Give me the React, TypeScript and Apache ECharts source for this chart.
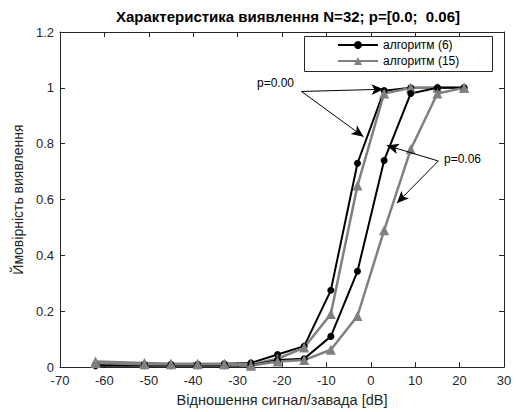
import React, { useEffect, useRef } from "react";
import * as echarts from "echarts";

// ---- data ----
const snr = [-62, -51, -45, -39, -33, -27, -21, -15, -9, -3, 3, 9, 15, 21];
const alg6p000 = [0.01, 0.01, 0.01, 0.01, 0.012, 0.015, 0.045, 0.075, 0.275, 0.73, 0.99, 1.0, 1.0, 1.0];
const alg15p000 = [0.02, 0.015, 0.012, 0.012, 0.012, 0.01, 0.03, 0.07, 0.19, 0.65, 0.98, 1.0, 1.0, 1.0];
const alg6p006 = [0.005, 0.005, 0.005, 0.005, 0.005, 0.006, 0.025, 0.03, 0.11, 0.343, 0.74, 0.98, 1.0, 1.0];
const alg15p006 = [0.015, 0.01, 0.01, 0.01, 0.01, 0.005, 0.02, 0.025, 0.062, 0.183, 0.49, 0.78, 0.98, 1.0];

const xMin = -70;
const xMax = 30;
const xStep = 10;
const yMin = 0;
const yMax = 1.2;
const yStep = 0.2;

const legendNames = ["алгоритм (6)", "алгоритм (15)"];
const titleText = "Характеристика виявлення N=32; p=[0.0;  0.06]";
const xName = "Відношення сигнал/завада [dB]";
const yName = "Ймовірність виявлення";

const labelP000 = "p=0.00";
const labelP006 = "p=0.06";
// annotation arrows in data coordinates: [from, to]
const arrowsP000 = [
  [[-15.6, 0.987], [2.85, 0.995]],
  [[-15.6, 0.987], [-1.65, 0.825]],
];
const arrowsP006 = [
  [[15.2, 0.738], [3.6, 0.794]],
  [[15.2, 0.738], [5.86, 0.587]],
];

const FONT = "'Liberation Sans', Arial, Helvetica, sans-serif";
const AX = "#262626";
const GRAY = "#808080";

const zip = (xs: number[], ys: number[]) => xs.map((x, i) => [x, ys[i]]);

export default function App() {
  const ref = useRef<HTMLDivElement>(null);
  useEffect(() => {
    document.body.style.margin = "0";
    const chart = echarts.init(ref.current!, undefined, { renderer: "svg" });
    const arrowData = [...arrowsP000, ...arrowsP006].map(([a, b]) => [
      { coord: a },
      { coord: b },
    ]);
    const axisCommon = {
      axisLine: { show: true, onZero: false, lineStyle: { color: AX, width: 1 } },
      axisTick: { show: true, inside: true, length: 5, lineStyle: { color: AX } },
      splitLine: { show: false },
    };
    chart.setOption({
      animation: false,
      backgroundColor: "#fff",
      textStyle: { fontFamily: FONT },
      title: {
        text: titleText,
        left: 111,
        top: 4,
        textStyle: { fontFamily: FONT, fontSize: 15, fontWeight: "bold", color: "#000" },
      },
      grid: { left: 60, right: 12, top: 32, bottom: 43 },
      legend: {
        data: legendNames,
        orient: "vertical",
        left: 305,
        top: 37,
        itemWidth: 40,
        itemHeight: 10,
        itemGap: 4,
        padding: [2, 0, 2, 32],
        textStyle: { fontFamily: FONT, fontSize: 12, color: "#000" },
        z: 6,
      },
      xAxis: [
        {
          type: "value",
          min: xMin,
          max: xMax,
          interval: xStep,
          position: "bottom",
          name: xName,
          nameLocation: "middle",
          nameGap: 21,
          nameTextStyle: { fontFamily: FONT, fontSize: 14.5, color: AX },
          axisLabel: { fontFamily: FONT, fontSize: 13, color: AX, margin: 7 },
          ...axisCommon,
        },
        {
          type: "value",
          min: xMin,
          max: xMax,
          interval: xStep,
          position: "top",
          axisLabel: { show: false },
          ...axisCommon,
        },
      ],
      yAxis: [
        {
          type: "value",
          min: yMin,
          max: yMax,
          interval: yStep,
          position: "left",
          name: yName,
          nameLocation: "middle",
          nameGap: 21,
          nameTextStyle: { fontFamily: FONT, fontSize: 14, color: AX },
          axisLabel: {
            fontFamily: FONT,
            fontSize: 13,
            color: AX,
            margin: 6,
            formatter: (v: number) => String(Math.round(v * 10) / 10),
          },
          ...axisCommon,
        },
        {
          type: "value",
          min: yMin,
          max: yMax,
          interval: yStep,
          position: "right",
          axisLabel: { show: false },
          ...axisCommon,
        },
      ],
      series: [
        {
          name: legendNames[0],
          type: "line",
          data: zip(snr, alg6p000),
          symbol: "circle",
          symbolSize: 7,
          itemStyle: { color: "#000" },
          lineStyle: { color: "#000", width: 2 },
          z: 3,
          markLine: {
            silent: true,
            symbol: ["none", "arrow"],
            symbolSize: [8, 12],
            label: { show: false },
            lineStyle: { color: "#000", width: 1, type: "solid" },
            data: arrowData,
            z: 10,
          },
        },
        {
          name: legendNames[1],
          type: "line",
          data: zip(snr, alg15p000),
          symbol: "triangle",
          symbolSize: 10,
          itemStyle: { color: GRAY },
          lineStyle: { color: GRAY, width: 2.5 },
          z: 3,
        },
        {
          name: legendNames[0],
          type: "line",
          data: zip(snr, alg6p006),
          symbol: "circle",
          symbolSize: 7,
          itemStyle: { color: "#000" },
          lineStyle: { color: "#000", width: 2 },
          z: 3,
        },
        {
          name: legendNames[1],
          type: "line",
          data: zip(snr, alg15p006),
          symbol: "triangle",
          symbolSize: 10,
          itemStyle: { color: GRAY },
          lineStyle: { color: GRAY, width: 2.5 },
          z: 3,
        },
      ],
      graphic: [
        {
          type: "rect",
          z: 5,
          shape: { x: 304.5, y: 36.5, width: 188, height: 35 },
          style: { fill: "#fff", stroke: AX, lineWidth: 1 },
        },
        {
          type: "text",
          left: 257,
          top: 77,
          style: { text: labelP000, font: `12px ${FONT}`, fill: "#000" },
        },
        {
          type: "text",
          left: 444,
          top: 153,
          style: { text: labelP006, font: `12px ${FONT}`, fill: "#000" },
        },
      ],
    });
    return () => chart.dispose();
  }, []);
  return <div ref={ref} style={{ width: 516, height: 412 }} />;
}
